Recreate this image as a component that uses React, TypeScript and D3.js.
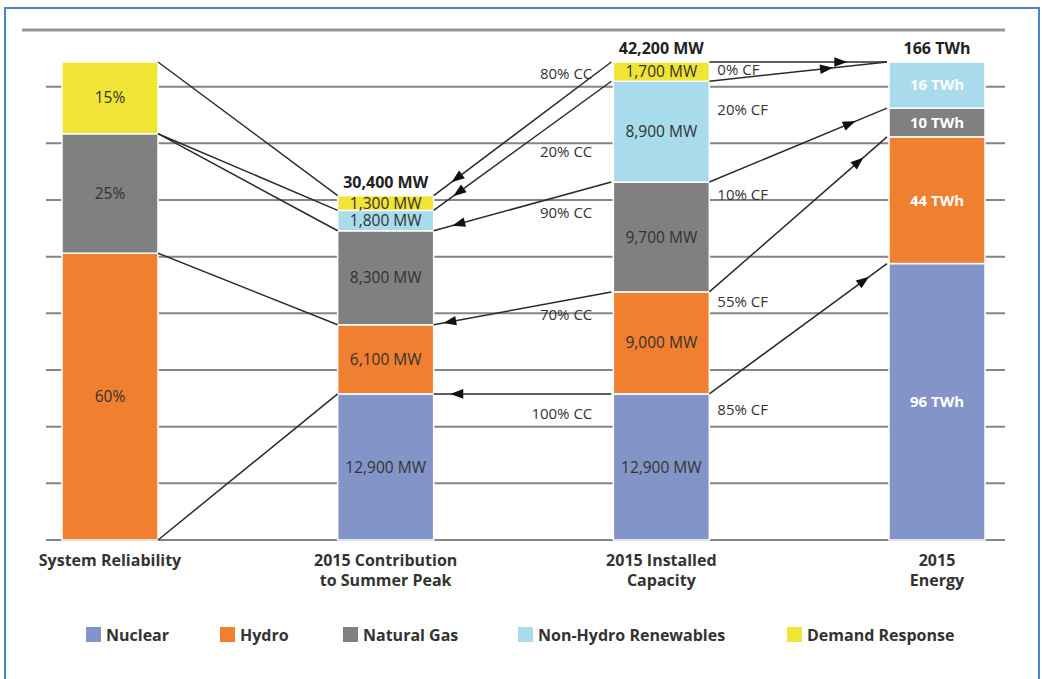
import React from "react";
import * as d3 from "d3";

// Generation mix, ordered bottom-to-top in every stacked column
const categories = ["Nuclear", "Hydro", "Natural Gas", "Non-Hydro Renewables", "Demand Response"];
const reliabilityPct = [0, 60, 25, 0, 15];
const summerPeakMW = [12900, 6100, 8300, 1800, 1300];
const installedMW = [12900, 9000, 9700, 8900, 1700];
const energyTWh = [96, 44, 10, 16, 0];
const capacityCredit = ["100% CC", "70% CC", "90% CC", "20% CC", "80% CC"];
const capacityFactor = ["85% CF", "55% CF", "10% CF", "20% CF", "0% CF"];
const columnTitles = [
  ["System Reliability"],
  ["2015 Contribution", "to Summer Peak"],
  ["2015 Installed", "Capacity"],
  ["2015", "Energy"],
];

const colors = ["#8395c8", "#f07f2f", "#808080", "#a8dbeb", "#f0e434"];

// Layout
const W = 1042;
const H = 679;
const BASE = 540;
const TOP = 62;
const BAR_W = 96;
const FONT = "'Open Sans', 'Noto Sans', sans-serif";
const TEXT = "#333333";
const LINE = "#2b2b2b";
const legendX = [86, 220, 343, 518, 787];
const ccLabelY = [414, 315, 213, 152, 74];
const cfLabelY = [410, 302, 195, 110, 70];
const leftArrowT = [0.87, 0.91, 0.86, 0.86, 0.87];
const rightArrowT = [0.87, 0.84, 0.79, 0.66, 0.74];

const fmtMW = (v: number) => `${d3.format(",")(v)} MW`;

const columns = [
  { values: reliabilityPct, max: d3.sum(reliabilityPct), fmt: (v: number) => `${v}%`, total: null as string | null, white: false },
  { values: summerPeakMW, max: d3.sum(installedMW), fmt: fmtMW, total: fmtMW(d3.sum(summerPeakMW)), white: false },
  { values: installedMW, max: d3.sum(installedMW), fmt: fmtMW, total: fmtMW(d3.sum(installedMW)), white: false },
  { values: energyTWh, max: d3.sum(energyTWh), fmt: (v: number) => `${v} TWh`, total: `${d3.sum(energyTWh)} TWh`, white: true },
].map((c) => ({ ...c, y: d3.scaleLinear().domain([0, c.max]).range([BASE, TOP]) }));

const x = d3.scalePoint<number>().domain(d3.range(columns.length)).range([110, 937]);
const grid = d3.scaleLinear().domain([0, 9]).range([BASE, 30]);

const tops = (ci: number) => Array.from(d3.cumsum(columns[ci].values), (v) => columns[ci].y(v));

function arrowHead(x1: number, y1: number, x2: number, y2: number, t: number) {
  const dx = x2 - x1;
  const dy = y2 - y1;
  const len = Math.hypot(dx, dy);
  const ux = dx / len;
  const uy = dy / len;
  const px = x1 + dx * t;
  const py = y1 + dy * t;
  const L = 6.5;
  const Wd = 4.8;
  const pts = [
    [px + ux * L, py + uy * L],
    [px - ux * L - uy * Wd, py - uy * L + ux * Wd],
    [px - ux * L + uy * Wd, py - uy * L - ux * Wd],
  ];
  return `M${pts.map((p) => p.join(",")).join("L")}Z`;
}

export default function App() {
  const left = (ci: number) => (x(ci) as number) - BAR_W / 2;
  const right = (ci: number) => (x(ci) as number) + BAR_W / 2;

  const relTops = tops(0);
  const peakTops = tops(1);
  const instTops = tops(2);
  const energyTops = tops(3);

  return (
    <svg
      width={W}
      height={H}
      viewBox={`0 0 ${W} ${H}`}
      style={{ position: "absolute", left: 0, top: 0, background: "#fff" }}
      fontFamily={FONT}
    >
      <rect x={5} y={8} width={1034} height={720} fill="none" stroke="#4f83c8" strokeWidth={2} />

      {/* horizontal rules */}
      {d3.range(10).map((i) => (
        <line
          key={`g${i}`}
          x1={i === 9 ? 22 : 46}
          x2={1005}
          y1={grid(i)}
          y2={grid(i)}
          stroke={i === 9 ? "#959595" : "#858585"}
          strokeWidth={i === 9 ? 3 : 2}
        />
      ))}

      {/* stacked columns */}
      {columns.map((col, ci) => {
        const cum = Array.from(d3.cumsum(col.values));
        const sum = d3.sum(col.values);
        return (
          <g key={`c${ci}`}>
            {col.values.map((v, si) =>
              v > 0 ? (
                <rect
                  key={si}
                  x={left(ci)}
                  width={BAR_W}
                  y={col.y(cum[si])}
                  height={col.y(cum[si] - v) - col.y(cum[si])}
                  fill={colors[si]}
                  stroke="#fff"
                  strokeWidth={1.5}
                />
              ) : null
            )}
            {col.values.map((v, si) =>
              v > 0 ? (
                <text
                  key={`t${si}`}
                  x={x(ci)}
                  y={(col.y(cum[si]) + col.y(cum[si] - v)) / 2}
                  dy="0.36em"
                  textAnchor="middle"
                  fontSize={col.white ? 15 : 15.5}
                  fontWeight={col.white ? "bold" : "normal"}
                  fill={col.white ? "#fff" : TEXT}
                >
                  {col.fmt(v)}
                </text>
              ) : null
            )}
            {col.total && (
              <text
                x={x(ci)}
                y={col.y(sum) - 8}
                textAnchor="middle"
                fontSize={16}
                fontWeight="bold"
                fill="#222"
              >
                {col.total}
              </text>
            )}
            {columnTitles[ci].map((line, li) => (
              <text
                key={`h${li}`}
                x={x(ci)}
                y={566 + li * 19.5}
                textAnchor="middle"
                fontSize={16}
                fontWeight="bold"
                fill={TEXT}
              >
                {line}
              </text>
            ))}
          </g>
        );
      })}

      {/* reliability -> summer peak */}
      {relTops.map((y0, i) => (
        <line key={`r${i}`} x1={right(0)} y1={y0} x2={left(1)} y2={peakTops[i]} stroke={LINE} strokeWidth={1.5} />
      ))}

      {/* installed capacity -> summer peak (capacity credit) */}
      {instTops.map((y0, i) => (
        <g key={`p${i}`}>
          <line x1={left(2) - 2} y1={y0} x2={right(1)} y2={peakTops[i]} stroke={LINE} strokeWidth={1.5} />
          <path d={arrowHead(left(2) - 2, y0, right(1), peakTops[i], leftArrowT[i])} fill="#111" />
        </g>
      ))}

      {/* installed capacity -> energy (capacity factor) */}
      {instTops.map((y0, i) => (
        <g key={`e${i}`}>
          <line x1={right(2)} y1={y0} x2={left(3) - 2} y2={energyTops[i]} stroke={LINE} strokeWidth={1.5} />
          <path d={arrowHead(right(2), y0, left(3) - 2, energyTops[i], rightArrowT[i])} fill="#111" />
        </g>
      ))}

      {capacityCredit.map((s, i) => (
        <text key={`cc${i}`} x={left(2) - 21} y={ccLabelY[i]} dy="0.36em" textAnchor="end" fontSize={15} fill={TEXT}>
          {s}
        </text>
      ))}
      {capacityFactor.map((s, i) => (
        <text key={`cf${i}`} x={right(2) + 8} y={cfLabelY[i]} dy="0.36em" fontSize={15} fill={TEXT}>
          {s}
        </text>
      ))}

      {/* legend */}
      {categories.map((c, i) => (
        <g key={`l${i}`} transform={`translate(${legendX[i]},627)`}>
          <rect width={15} height={15} fill={colors[i]} />
          <text x={20} y={13.5} fontSize={16} fontWeight="bold" fill={TEXT}>
            {c}
          </text>
        </g>
      ))}
    </svg>
  );
}
